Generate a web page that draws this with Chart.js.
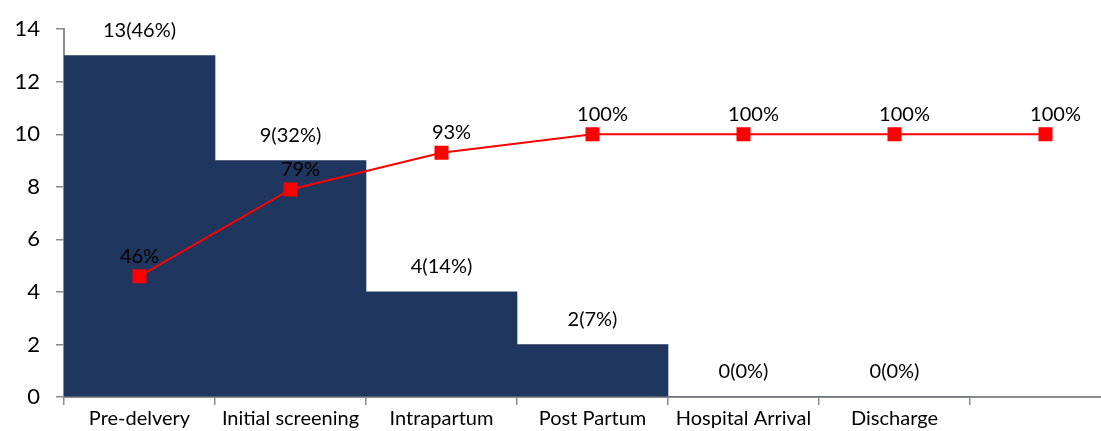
<!DOCTYPE html>
<html>
<head>
<meta charset="utf-8">
<script src="https://cdn.jsdelivr.net/npm/chart.js@4.4.0/dist/chart.umd.min.js"></script>
<style>
  html, body { margin: 0; padding: 0; background: #fff; overflow: hidden; }
  #wrap { width: 1121px; height: 431px; position: relative; }
</style>
</head>
<body>
<div id="wrap"><canvas id="c"></canvas></div>
<script>
const categories = ["Pre-delvery", "Initial screening", "Intrapartum", "Post Partum", "Hospital Arrival", "Discharge", ""];
const counts = [13, 9, 4, 2, 0, 0, null];
const countLabels = ["13(46%)", "9(32%)", "4(14%)", "2(7%)", "0(0%)", "0(0%)", ""];
const cumulative = [4.6, 7.9, 9.3, 10, 10, 10, 10];
const cumulativeLabels = ["46%", "79%", "93%", "100%", "100%", "100%", "100%"];
const yTicks = [0, 2, 4, 6, 8, 10, 12, 14];

const FONT = "Lato, 'Open Sans', sans-serif";
const AXIS = '#8c8c8c';

const labelPlugin = {
  id: 'labels',
  afterDatasetsDraw(chart) {
    const ctx = chart.ctx;
    ctx.save();
    ctx.fillStyle = '#000';
    ctx.textAlign = 'center';
    ctx.textBaseline = 'middle';
    ctx.font = '20px ' + FONT;
    const barMeta = chart.getDatasetMeta(0);
    barMeta.data.forEach((el, i) => {
      if (!countLabels[i]) return;
      ctx.fillText(countLabels[i], el.x, el.y - 25);
    });
    const lineMeta = chart.getDatasetMeta(1);
    lineMeta.data.forEach((el, i) => {
      ctx.fillText(cumulativeLabels[i], el.x + (i === 0 ? 0 : 10), el.y - 20);
    });
    ctx.restore();
  }
};

new Chart(document.getElementById('c'), {
  data: {
    labels: categories,
    datasets: [
      {
        type: 'bar',
        data: counts,
        backgroundColor: '#1f365f',
        borderWidth: 0,
        barPercentage: 1,
        categoryPercentage: 1,
        order: 2
      },
      {
        type: 'line',
        data: cumulative,
        borderColor: '#ff0000',
        backgroundColor: '#ff0000',
        borderWidth: 2,
        pointStyle: 'rect',
        pointRadius: 8.5,
        pointHoverRadius: 8.5,
        tension: 0,
        clip: false,
        order: 1
      }
    ]
  },
  options: {
    responsive: true,
    maintainAspectRatio: false,
    animation: false,
    layout: { autoPadding: false, padding: { top: 25, right: 0, bottom: 0, left: 0 } },
    plugins: { legend: { display: false }, tooltip: { enabled: false } },
    scales: {
      x: {
        offset: true,
        grid: { display: true, drawOnChartArea: false, drawTicks: true, tickLength: 8, color: AXIS, lineWidth: 1.5, offset: true },
        border: { display: true, color: AXIS, width: 2 },
        ticks: { color: '#000', font: { family: FONT, size: 20 }, padding: 2, maxRotation: 0, autoSkip: false },
        afterFit(scale) { scale.height = 34; }
      },
      y: {
        min: 0,
        max: 14,
        afterBuildTicks(scale) { scale.ticks = yTicks.map(v => ({ value: v })); },
        grid: { display: true, drawOnChartArea: false, drawTicks: true, tickLength: 8, color: AXIS, lineWidth: 1.5 },
        border: { display: true, color: AXIS, width: 2 },
        ticks: { color: '#000', font: { family: FONT, size: 22 }, padding: 16 },
        afterFit(scale) { scale.width = 64; }
      }
    }
  },
  plugins: [labelPlugin]
});
</script>
</body>
</html>
